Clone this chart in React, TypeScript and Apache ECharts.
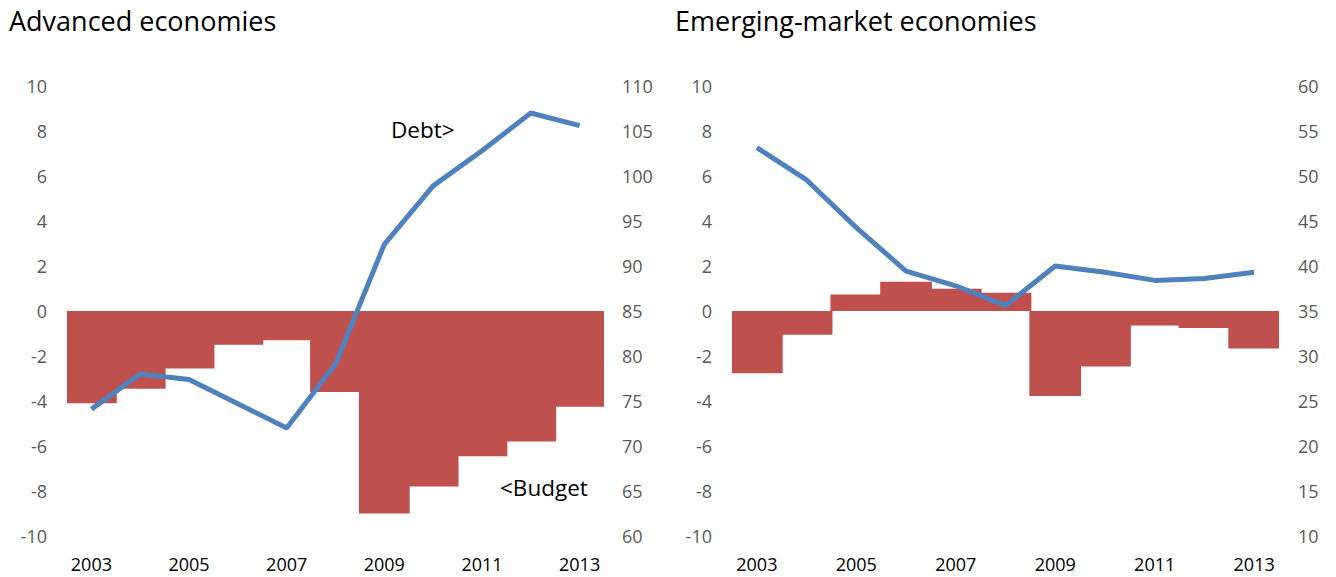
import React, { useEffect, useRef } from "react";
import * as echarts from "echarts";

const years = ["2003", "2004", "2005", "2006", "2007", "2008", "2009", "2010", "2011", "2012", "2013"];

const advBudget = [-4.1, -3.45, -2.55, -1.5, -1.3, -3.6, -9.0, -7.8, -6.45, -5.8, -4.25];
const advDebt = [74.1, 78.0, 77.4, 74.7, 72.0, 79.1, 92.4, 98.9, 102.8, 107.0, 105.6];

const emBudget = [-2.77, -1.05, 0.73, 1.3, 0.99, 0.81, -3.78, -2.47, -0.64, -0.76, -1.67];
const emDebt = [53.15, 49.56, 44.26, 39.44, 37.8, 35.6, 40.0, 39.3, 38.4, 38.6, 39.3];

const titles = ["Advanced economies", "Emerging-market economies"];
const annotations = ["Debt>", "<Budget"];
const FONT = "'Open Sans', 'Noto Sans', sans-serif";

export default function App() {
  const ref = useRef<HTMLDivElement>(null);
  useEffect(() => {
    if (!ref.current) return;
    const chart = echarts.init(ref.current, undefined, { renderer: "svg" });
    const tickLabel = { color: "#595959", fontSize: 18, fontFamily: FONT };
    const valAxis = (gridIndex: number, min: number, max: number, interval: number, position: string, margin: number) => ({
      type: "value",
      gridIndex,
      min,
      max,
      interval,
      position,
      axisLine: { show: false },
      axisTick: { show: false },
      splitLine: { show: false },
      axisLabel: { ...tickLabel, margin },
    });
    const catAxis = (gridIndex: number) => ({
      type: "category",
      gridIndex,
      data: years,
      boundaryGap: true,
      position: "bottom",
      axisLine: { show: false },
      axisTick: { show: false },
      axisLabel: { color: "#000", fontSize: 18, fontFamily: FONT, interval: 1, margin: 19 },
    });
    const bar = (xi: number, yi: number, data: number[]) => ({
      type: "bar",
      name: "Budget",
      xAxisIndex: xi,
      yAxisIndex: yi,
      data,
      barWidth: "104%",
      itemStyle: { color: "#c0504d" },
    });
    const line = (xi: number, yi: number, data: number[]) => ({
      type: "line",
      name: "Debt",
      xAxisIndex: xi,
      yAxisIndex: yi,
      data,
      showSymbol: false,
      symbol: "none",
      lineStyle: { color: "#4f81bd", width: 5 },
      z: 3,
    });
    const titleStyle = { fontSize: 27, fill: "#000", fontFamily: FONT, textVerticalAlign: "middle" };
    const annStyle = { fontSize: 22.5, fill: "#000", fontFamily: FONT, textVerticalAlign: "middle" };
    chart.setOption({
      animation: false,
      textStyle: { fontFamily: FONT },
      grid: [
        { left: 67, top: 86, width: 537, height: 450 },
        { left: 732, top: 86, width: 547, height: 450 },
      ],
      xAxis: [catAxis(0), catAxis(1)],
      yAxis: [
        valAxis(0, -10, 10, 2, "left", 20),
        valAxis(0, 60, 110, 5, "right", 18),
        valAxis(1, -10, 10, 2, "left", 20),
        valAxis(1, 10, 60, 5, "right", 19),
      ],
      series: [bar(0, 0, advBudget), line(0, 1, advDebt), bar(1, 2, emBudget), line(1, 3, emDebt)],
      graphic: [
        { type: "text", x: 9, y: 20, style: { text: titles[0], ...titleStyle } },
        { type: "text", x: 675, y: 20, style: { text: titles[1], ...titleStyle } },
        { type: "text", x: 391, y: 129, style: { text: annotations[0], ...annStyle } },
        { type: "text", x: 500, y: 487, style: { text: annotations[1], ...annStyle } },
      ],
    });
    return () => chart.dispose();
  }, []);
  return <div ref={ref} style={{ position: "absolute", left: 0, top: 0, width: 1336, height: 577 }} />;
}
